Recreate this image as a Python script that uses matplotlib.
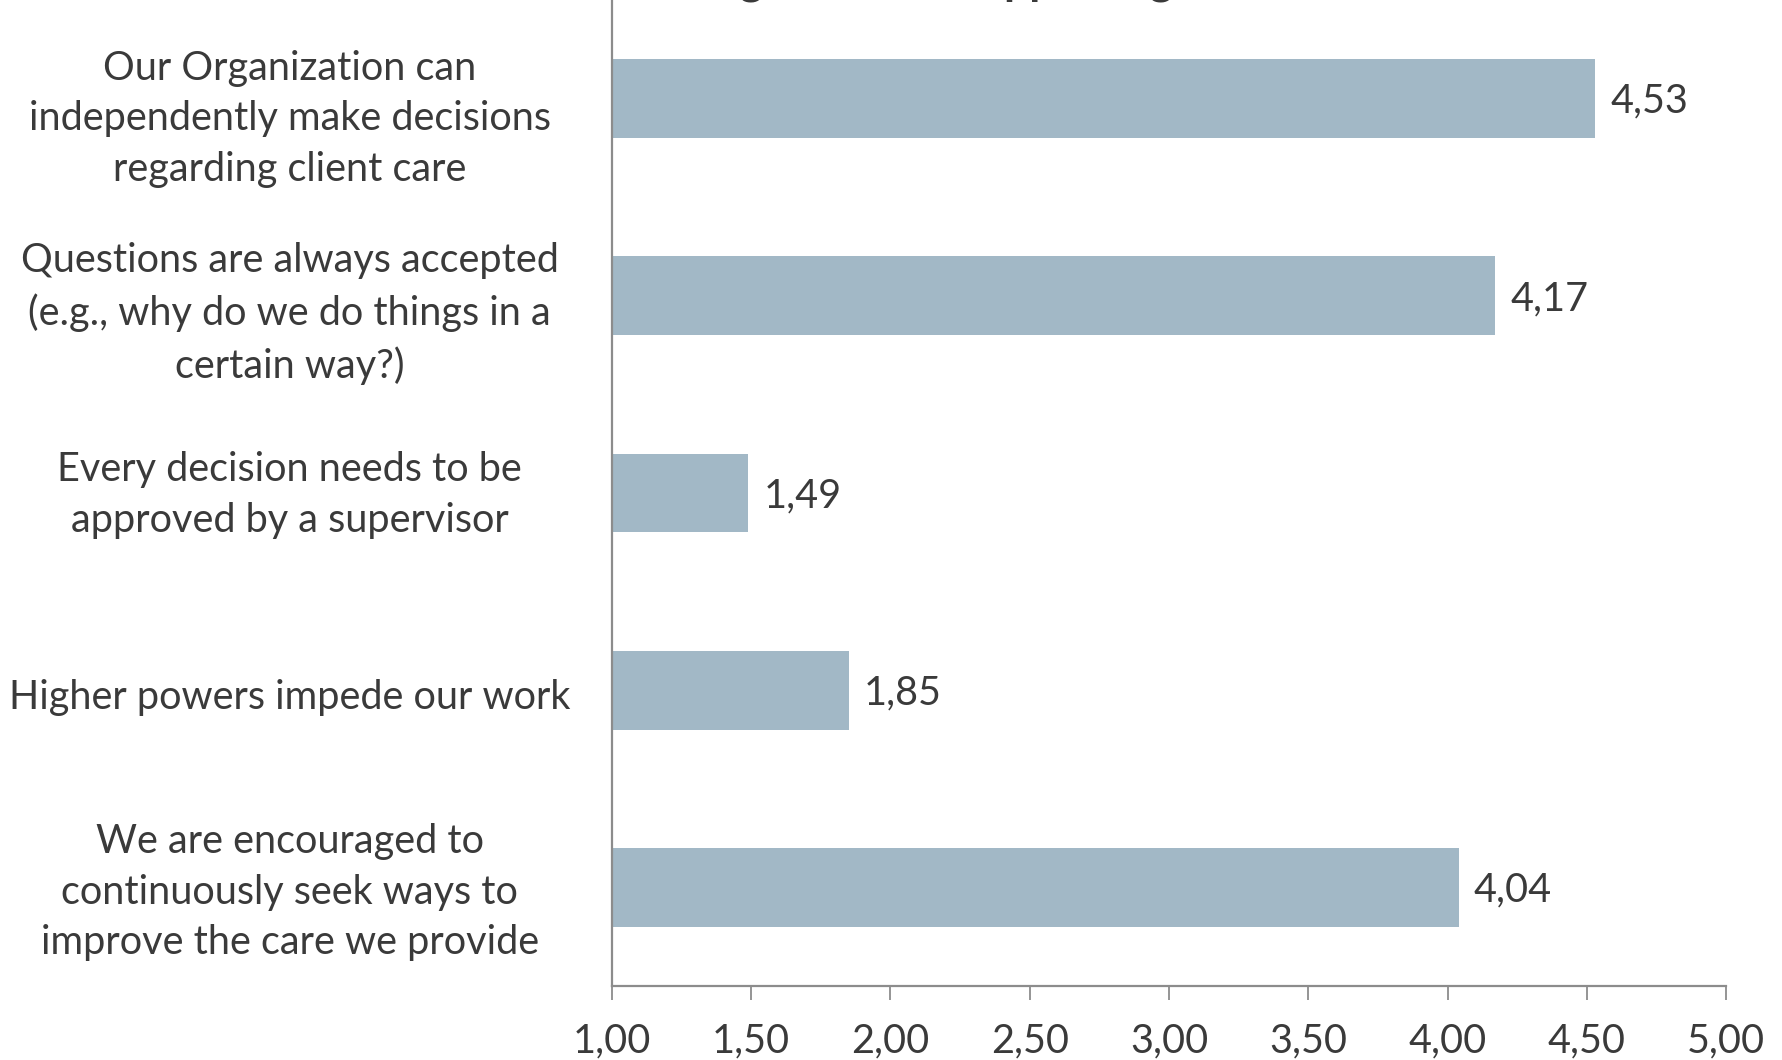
import matplotlib
matplotlib.use("Agg")
import matplotlib.pyplot as plt
import matplotlib.transforms as mtransforms
from matplotlib.ticker import FuncFormatter

# survey items (top to bottom) and mean scores
items = [
    "Our Organization can\nindependently make decisions\nregarding client care",
    "Questions are always accepted\n(e.g., why do we do things in a\ncertain way?)",
    "Every decision needs to be\napproved by a supervisor",
    "Higher powers impede our work",
    "We are encouraged to\ncontinuously seek ways to\nimprove the care we provide",
]
scores = [4.53, 4.17, 1.49, 1.85, 4.04]
xticks = [1.0, 1.5, 2.0, 2.5, 3.0, 3.5, 4.0, 4.5, 5.0]
title = "Organization Supporting"

plt.rcParams['font.family'] = ['Lato', 'DejaVu Sans']
text_col = "#3a3a3a"
axis_col = "#8c8c8c"
bar_col = "#a2b8c6"
fs = 28.5

fig = plt.figure(figsize=(17.83, 10.6), dpi=100)
ax = fig.add_axes([612 / 1783, 1 - 986 / 1060, (1726 - 612) / 1783, 986 / 1060])

ypos = list(range(len(items)))
# bars start at 1.00, the left edge of the axis
ax.barh(ypos, [s - 1 for s in scores], left=1, height=0.4, color=bar_col, zorder=2)

for y, s in zip(ypos, scores):
    ax.annotate(f"{s:.2f}".replace(".", ","), xy=(s, y), xytext=(11, -2),
                textcoords="offset points", ha="left", va="center",
                fontsize=fs, color=text_col)

ax.set_xlim(1, 5)
ax.set_ylim(len(items) - 0.5, -0.5)
ax.set_xticks(xticks)
ax.xaxis.set_major_formatter(FuncFormatter(lambda v, p: f"{v:.2f}".replace(".", ",")))
ax.set_yticks(ypos)
ax.set_yticklabels(items, ha="center", multialignment="center", linespacing=1.45)

ax.tick_params(axis="x", direction="out", length=10, width=1.3, color=axis_col,
               labelsize=fs, labelcolor=text_col, pad=16)
ax.tick_params(axis="y", length=0, labelsize=fs, labelcolor=text_col, pad=232)

# small vertical nudges (points) so the labels sit like in the original layout
nudges = [-7, -5, 6, -3, 4]
for lab, dy in zip(ax.get_yticklabels(), nudges):
    lab.set_transform(lab.get_transform() +
                      mtransforms.ScaledTranslation(0, dy / 72, fig.dpi_scale_trans))

for side in ["top", "right"]:
    ax.spines[side].set_visible(False)
for side in ["left", "bottom"]:
    ax.spines[side].set_color(axis_col)
    ax.spines[side].set_linewidth(1.6)

# title sits mostly above the visible area, only descenders show
fig.text(930 / 1783, 1 + 5 / 1060, title, ha="center", va="baseline",
         fontsize=32, fontweight="bold", color=text_col)

fig.savefig("out.png", dpi=100)
